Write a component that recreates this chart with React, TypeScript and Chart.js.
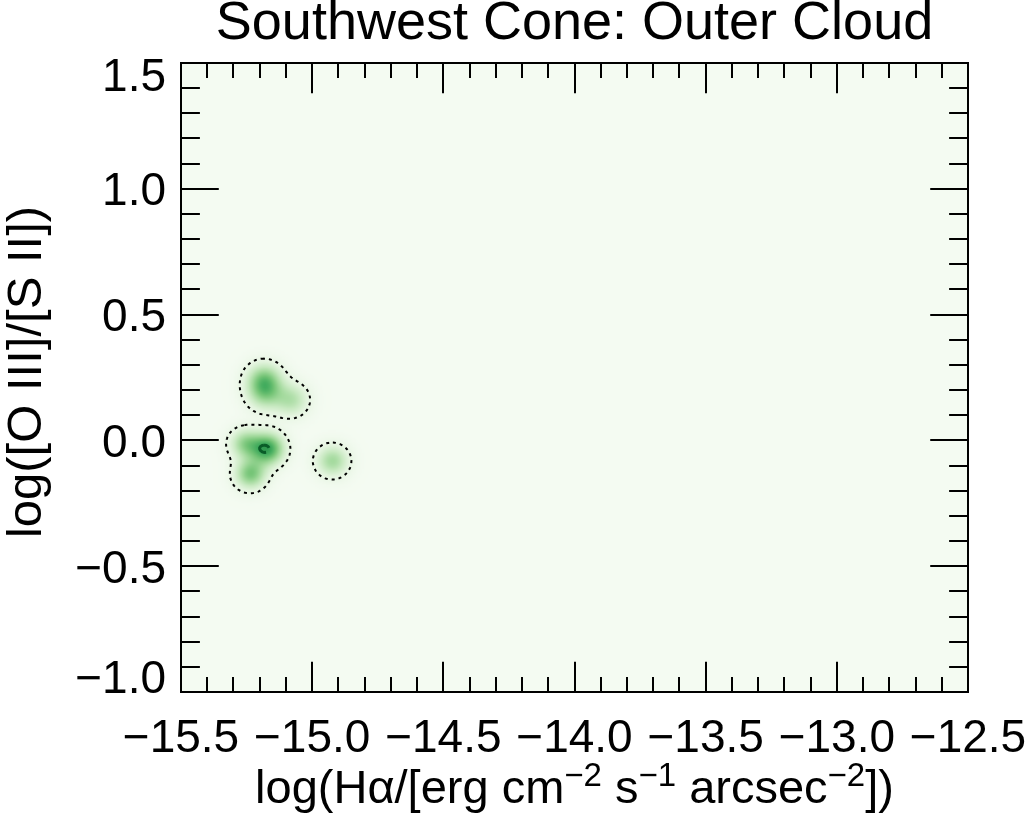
import React, { useEffect, useRef } from 'react';
import { Chart, registerables } from 'chart.js';

Chart.register(...registerables);

// ---------- text ----------
const TITLE = 'Southwest Cone: Outer Cloud';
const Y_TITLE = 'log([O III]/[S II])';
const X_TITLE_PARTS: [string, boolean][] = [
  ['log(H\u03b1/[erg cm', false],
  ['\u22122', true],
  [' s', false],
  ['\u22121', true],
  [' arcsec', false],
  ['\u22122', true],
  ['])', false],
];

// ---------- axes ----------
const X_MIN = -15.5;
const X_MAX = -12.5;
const Y_MIN = -1.0;
const Y_MAX = 1.5;
const xMajorTicks = [-15.5, -15.0, -14.5, -14.0, -13.5, -13.0, -12.5];
const xTickLabels = ['\u221215.5', '\u221215.0', '\u221214.5', '\u221214.0', '\u221213.5', '\u221213.0', '\u221212.5'];
const yMajorTicks = [-1.0, -0.5, 0.0, 0.5, 1.0, 1.5];
const yTickLabels = ['\u22121.0', '\u22120.5', '0.0', '0.5', '1.0', '1.5'];
const MINOR_STEP = 0.1;

// ---------- density sources ----------
const srcX = [-15.184, -15.182, -15.081, -15.172, -15.256, -15.237, -14.924];
const srcY = [0.240, 0.185, 0.161, -0.034, -0.014, -0.134, -0.082];
const srcW = [0.72, 0.52, 0.5, 1.1, 0.65, 0.8, 0.6];
const srcS = [0.0455, 0.0455, 0.0445, 0.0430, 0.040, 0.040, 0.042];

const LEVEL_OUTER = 0.13;
const LEVEL_PEAK_FRAC = 0.95;

const GREENS = ['#f7fcf5', '#e5f5e0', '#c7e9c0', '#a1d99b', '#74c476', '#41ab5d', '#238b45', '#006d2c', '#00441b'];

const FONT = "'Liberation Sans', Arial, Helvetica, sans-serif";

const NX = 601;
const NY = 501;

function hexToRgb(h: string): [number, number, number] {
  return [parseInt(h.slice(1, 3), 16), parseInt(h.slice(3, 5), 16), parseInt(h.slice(5, 7), 16)];
}
const GREENS_RGB = GREENS.map(hexToRgb);

function cmap(v: number): [number, number, number] {
  const t = Math.max(0, Math.min(1, v)) * (GREENS_RGB.length - 1);
  const k = Math.min(GREENS_RGB.length - 2, Math.floor(t));
  const f = t - k;
  const a = GREENS_RGB[k];
  const b = GREENS_RGB[k + 1];
  return [a[0] + (b[0] - a[0]) * f, a[1] + (b[1] - a[1]) * f, a[2] + (b[2] - a[2]) * f];
}

function buildGrid(): { g: Float32Array; max: number } {
  const g = new Float32Array(NX * NY);
  const dx = (X_MAX - X_MIN) / (NX - 1);
  const dy = (Y_MAX - Y_MIN) / (NY - 1);
  let max = 0;
  for (let j = 0; j < NY; j++) {
    const y = Y_MAX - j * dy;
    for (let i = 0; i < NX; i++) {
      const x = X_MIN + i * dx;
      let s = 0;
      for (let k = 0; k < srcX.length; k++) {
        const ddx = x - srcX[k];
        const ddy = y - srcY[k];
        const r2 = ddx * ddx + ddy * ddy;
        const s2 = 2 * srcS[k] * srcS[k];
        if (r2 < 14 * s2) s += srcW[k] * Math.exp(-r2 / s2);
      }
      g[j * NX + i] = s;
      if (s > max) max = s;
    }
  }
  return { g, max };
}

type P = { x: number; y: number };

function contours(g: Float32Array, level: number): P[][] {
  const nx = NX;
  const ny = NY;
  const dx = (X_MAX - X_MIN) / (nx - 1);
  const dy = (Y_MAX - Y_MIN) / (ny - 1);
  const H = nx * ny;
  const pts = new Map<number, P>();
  const segs: [number, number][] = [];
  const edgePoint = (id: number) => {
    if (pts.has(id)) return;
    if (id < H) {
      const j = Math.floor(id / nx);
      const i = id % nx;
      const a = g[j * nx + i];
      const b = g[j * nx + i + 1];
      const t = (level - a) / (b - a);
      pts.set(id, { x: X_MIN + (i + t) * dx, y: Y_MAX - j * dy });
    } else {
      const k = id - H;
      const j = Math.floor(k / nx);
      const i = k % nx;
      const a = g[j * nx + i];
      const b = g[(j + 1) * nx + i];
      const t = (level - a) / (b - a);
      pts.set(id, { x: X_MIN + i * dx, y: Y_MAX - (j + t) * dy });
    }
  };
  const TABLE: number[][] = [
    [], [3, 0], [0, 1], [3, 1], [1, 2], [3, 0, 1, 2], [0, 2], [3, 2],
    [2, 3], [0, 2], [0, 1, 2, 3], [1, 2], [1, 3], [0, 1], [3, 0], [],
  ];
  for (let j = 0; j < ny - 1; j++) {
    for (let i = 0; i < nx - 1; i++) {
      const v0 = g[j * nx + i];
      const v1 = g[j * nx + i + 1];
      const v2 = g[(j + 1) * nx + i + 1];
      const v3 = g[(j + 1) * nx + i];
      const c = (v0 > level ? 1 : 0) | (v1 > level ? 2 : 0) | (v2 > level ? 4 : 0) | (v3 > level ? 8 : 0);
      if (c === 0 || c === 15) continue;
      const e = [j * nx + i, H + j * nx + i + 1, (j + 1) * nx + i, H + j * nx + i];
      const tb = TABLE[c];
      for (let k = 0; k < tb.length; k += 2) {
        const a = e[tb[k]];
        const b = e[tb[k + 1]];
        edgePoint(a);
        edgePoint(b);
        segs.push([a, b]);
      }
    }
  }
  const adj = new Map<number, number[]>();
  segs.forEach((s, idx) => {
    for (const e of s) {
      if (!adj.has(e)) adj.set(e, []);
      adj.get(e)!.push(idx);
    }
  });
  const used = new Uint8Array(segs.length);
  const lines: P[][] = [];
  for (let s = 0; s < segs.length; s++) {
    if (used[s]) continue;
    used[s] = 1;
    const chain = [segs[s][0], segs[s][1]];
    let cur = segs[s][1];
    for (;;) {
      const nb = (adj.get(cur) || []).find((k) => !used[k]);
      if (nb === undefined) break;
      used[nb] = 1;
      const nxt = segs[nb][0] === cur ? segs[nb][1] : segs[nb][0];
      chain.push(nxt);
      cur = nxt;
    }
    cur = segs[s][0];
    for (;;) {
      const nb = (adj.get(cur) || []).find((k) => !used[k]);
      if (nb === undefined) break;
      used[nb] = 1;
      const nxt = segs[nb][0] === cur ? segs[nb][1] : segs[nb][0];
      chain.unshift(nxt);
      cur = nxt;
    }
    lines.push(chain.map((id) => pts.get(id)!));
  }
  return lines;
}

function minorTicks(min: number, max: number): number[] {
  const out: number[] = [];
  const n = Math.round((max - min) / MINOR_STEP);
  for (let k = 0; k <= n; k++) out.push(min + k * MINOR_STEP);
  return out;
}

export default function App() {
  const ref = useRef<HTMLCanvasElement>(null);

  useEffect(() => {
    const canvas = ref.current!;
    const { g: grid, max } = buildGrid();

    const off = document.createElement('canvas');
    off.width = NX;
    off.height = NY;
    const octx = off.getContext('2d')!;
    const img = octx.createImageData(NX, NY);
    for (let n = 0; n < NX * NY; n++) {
      const c = cmap(0.02 + 0.57 * grid[n]);
      img.data[n * 4] = c[0];
      img.data[n * 4 + 1] = c[1];
      img.data[n * 4 + 2] = c[2];
      img.data[n * 4 + 3] = 255;
    }
    octx.putImageData(img, 0, 0);

    const outer = contours(grid, LEVEL_OUTER);
    const peak = contours(grid, LEVEL_PEAK_FRAC * max);

    const datasets: any[] = [];
    outer.forEach((line, k) => {
      datasets.push({
        label: 'outer contour ' + k,
        data: line,
        showLine: true,
        borderColor: '#000000',
        borderWidth: 2,
        borderDash: [3, 4],
        pointRadius: 0,
        fill: false,
        tension: 0,
      });
    });
    peak.forEach((line, k) => {
      datasets.push({
        label: 'peak contour ' + k,
        data: line,
        showLine: true,
        borderColor: '#0a5c28',
        borderWidth: 3,
        borderDash: [14, 6],
        pointRadius: 0,
        fill: false,
        tension: 0,
      });
    });

    const heatPlugin = {
      id: 'heat',
      beforeDatasetsDraw(chart: any) {
        const ctx = chart.ctx;
        const xs = chart.scales.x;
        const ys = chart.scales.y;
        const l = xs.getPixelForValue(X_MIN);
        const r = xs.getPixelForValue(X_MAX);
        const t = ys.getPixelForValue(Y_MAX);
        const b = ys.getPixelForValue(Y_MIN);
        ctx.save();
        ctx.imageSmoothingEnabled = true;
        ctx.drawImage(off, l, t, r - l, b - t);
        ctx.restore();
      },
    };

    const axesPlugin = {
      id: 'idlAxes',
      afterDraw(chart: any) {
        const ctx = chart.ctx as CanvasRenderingContext2D;
        const xs = chart.scales.x;
        const ys = chart.scales.y;
        const { left, right, top, bottom } = chart.chartArea;
        ctx.save();
        ctx.strokeStyle = '#000';
        ctx.fillStyle = '#000';
        ctx.setLineDash([]);
        ctx.lineWidth = 2;
        ctx.strokeRect(left, top, right - left, bottom - top);
        const h = bottom - top;
        const w = right - left;
        const xMajLen = 0.048 * h;
        const yMajLen = 0.048 * w;
        ctx.beginPath();
        minorTicks(X_MIN, X_MAX).forEach((v) => {
          const px = Math.round(xs.getPixelForValue(v));
          const isMaj = xMajorTicks.some((m) => Math.abs(m - v) < 1e-6);
          const len = isMaj ? xMajLen : xMajLen / 2;
          ctx.moveTo(px, bottom);
          ctx.lineTo(px, bottom - len);
          ctx.moveTo(px, top);
          ctx.lineTo(px, top + len);
        });
        minorTicks(Y_MIN, Y_MAX).forEach((v) => {
          const py = Math.round(ys.getPixelForValue(v));
          const isMaj = yMajorTicks.some((m) => Math.abs(m - v) < 1e-6);
          const len = isMaj ? yMajLen : yMajLen / 2;
          ctx.moveTo(left, py);
          ctx.lineTo(left + len, py);
          ctx.moveTo(right, py);
          ctx.lineTo(right - len, py);
        });
        ctx.stroke();

        const tickSize = 46;
        ctx.font = `${tickSize}px ${FONT}`;
        ctx.textBaseline = 'alphabetic';
        ctx.textAlign = 'center';
        xMajorTicks.forEach((v, k) => {
          ctx.fillText(xTickLabels[k], xs.getPixelForValue(v), 752);
        });
        ctx.textAlign = 'right';
        const cap = tickSize * 0.716;
        yMajorTicks.forEach((v, k) => {
          let cy = ys.getPixelForValue(v);
          cy = Math.max(top + 12, Math.min(bottom - 15, cy));
          ctx.fillText(yTickLabels[k], 166, cy + cap / 2);
        });

        ctx.textAlign = 'center';
        ctx.font = `54px ${FONT}`;
        ctx.fillText(TITLE, (left + right) / 2, 39);

        ctx.save();
        ctx.translate(41, 372);
        ctx.rotate(-Math.PI / 2);
        ctx.font = `49px ${FONT}`;
        ctx.textAlign = 'center';
        ctx.fillText(Y_TITLE, 0, 0);
        ctx.restore();

        const mainF = `47px ${FONT}`;
        const supF = `33px ${FONT}`;
        let total = 0;
        X_TITLE_PARTS.forEach(([t, sup]) => {
          ctx.font = sup ? supF : mainF;
          total += ctx.measureText(t).width;
        });
        let x0 = (left + right) / 2 - total / 2;
        ctx.textAlign = 'left';
        X_TITLE_PARTS.forEach(([t, sup]) => {
          ctx.font = sup ? supF : mainF;
          ctx.fillText(t, x0, sup ? 786 : 803);
          x0 += ctx.measureText(t).width;
        });
        ctx.restore();
      },
    };

    const chart = new Chart(canvas, {
      type: 'scatter',
      data: { datasets },
      options: {
        animation: false,
        responsive: false,
        maintainAspectRatio: false,
        events: [],
        layout: { padding: { left: 181, top: 63, right: 60, bottom: 124 } },
        plugins: { legend: { display: false }, tooltip: { enabled: false }, title: { display: false } },
        scales: {
          x: { type: 'linear', min: X_MIN, max: X_MAX, display: false },
          y: { type: 'linear', min: Y_MIN, max: Y_MAX, display: false },
        },
      },
      plugins: [heatPlugin, axesPlugin],
    });
    return () => chart.destroy();
  }, []);

  return (
    <div style={{ position: 'fixed', left: 0, top: 0, width: 1028, height: 816, background: '#ffffff' }}>
      <canvas ref={ref} width={1028} height={816} style={{ display: 'block', width: 1028, height: 816 }} />
    </div>
  );
}
